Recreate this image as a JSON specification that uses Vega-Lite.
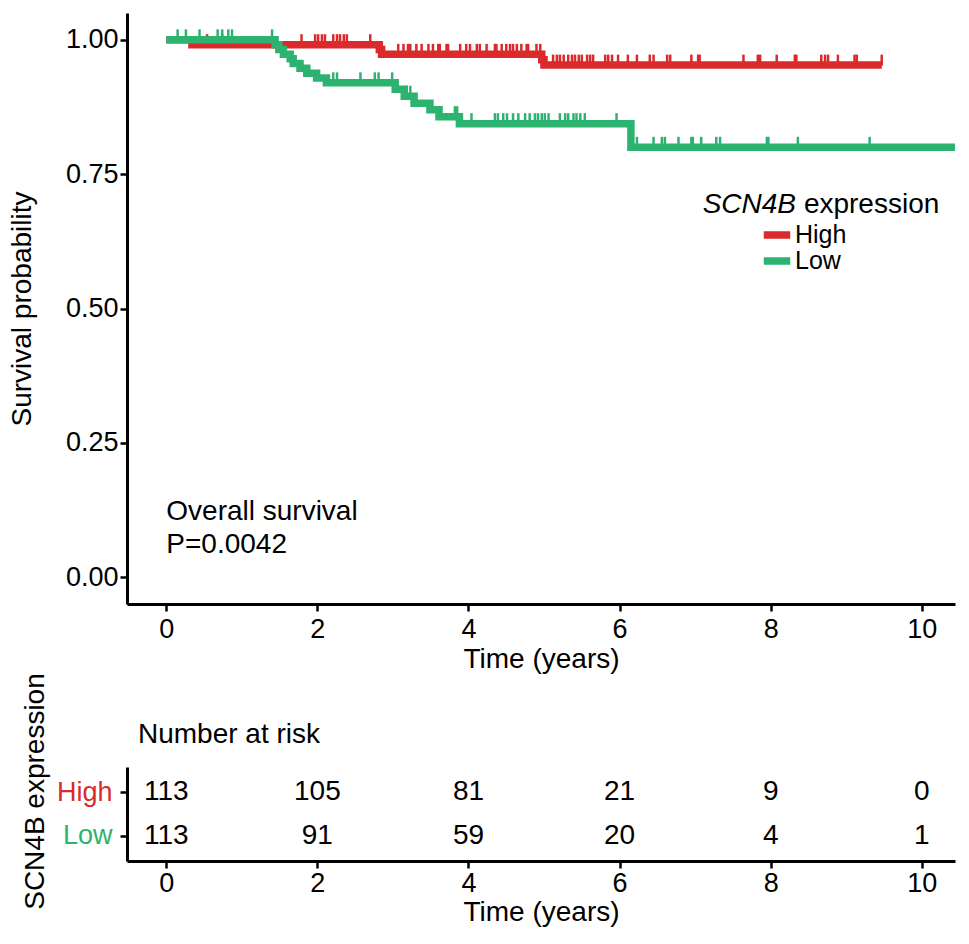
{
  "$schema": "https://vega.github.io/schema/vega-lite/v6.json",
  "padding": {"left": 8, "top": 13, "right": 14, "bottom": 5},
  "background": "white",
  "config": {
    "view": {"stroke": null},
    "font": "Liberation Sans",
    "axis": {
      "grid": false,
      "domainColor": "black",
      "domainWidth": 3,
      "tickColor": "black",
      "tickWidth": 2.5,
      "tickSize": 7,
      "labelColor": "black",
      "labelFontSize": 27,
      "titleFontSize": 28,
      "titleFontWeight": "normal",
      "titleColor": "black"
    }
  },
  "datasets": {
    "km": [
      {"g": "High", "t": 0, "s": 1, "c": 0},
      {"g": "High", "t": 0.34, "s": 0.991, "c": 0},
      {"g": "High", "t": 0.54, "s": 0.991, "c": 1},
      {"g": "High", "t": 0.74, "s": 0.991, "c": 1},
      {"g": "High", "t": 1.79, "s": 0.991, "c": 1},
      {"g": "High", "t": 1.97, "s": 0.991, "c": 1},
      {"g": "High", "t": 2.01, "s": 0.991, "c": 1},
      {"g": "High", "t": 2.06, "s": 0.991, "c": 1},
      {"g": "High", "t": 2.10, "s": 0.991, "c": 1},
      {"g": "High", "t": 2.21, "s": 0.991, "c": 1},
      {"g": "High", "t": 2.26, "s": 0.991, "c": 1},
      {"g": "High", "t": 2.30, "s": 0.991, "c": 1},
      {"g": "High", "t": 2.35, "s": 0.991, "c": 1},
      {"g": "High", "t": 2.39, "s": 0.991, "c": 1},
      {"g": "High", "t": 2.70, "s": 0.991, "c": 1},
      {"g": "High", "t": 2.82, "s": 0.982, "c": 0},
      {"g": "High", "t": 2.85, "s": 0.973, "c": 0},
      {"g": "High", "t": 3.07, "s": 0.973, "c": 1},
      {"g": "High", "t": 3.14, "s": 0.973, "c": 1},
      {"g": "High", "t": 3.20, "s": 0.973, "c": 1},
      {"g": "High", "t": 3.23, "s": 0.973, "c": 1},
      {"g": "High", "t": 3.31, "s": 0.973, "c": 1},
      {"g": "High", "t": 3.38, "s": 0.973, "c": 1},
      {"g": "High", "t": 3.47, "s": 0.973, "c": 1},
      {"g": "High", "t": 3.53, "s": 0.973, "c": 1},
      {"g": "High", "t": 3.60, "s": 0.973, "c": 1},
      {"g": "High", "t": 3.62, "s": 0.973, "c": 1},
      {"g": "High", "t": 3.71, "s": 0.973, "c": 1},
      {"g": "High", "t": 3.73, "s": 0.973, "c": 1},
      {"g": "High", "t": 3.89, "s": 0.973, "c": 1},
      {"g": "High", "t": 3.97, "s": 0.973, "c": 1},
      {"g": "High", "t": 4.02, "s": 0.973, "c": 1},
      {"g": "High", "t": 4.11, "s": 0.973, "c": 1},
      {"g": "High", "t": 4.15, "s": 0.973, "c": 1},
      {"g": "High", "t": 4.24, "s": 0.973, "c": 1},
      {"g": "High", "t": 4.35, "s": 0.973, "c": 1},
      {"g": "High", "t": 4.37, "s": 0.973, "c": 1},
      {"g": "High", "t": 4.44, "s": 0.973, "c": 1},
      {"g": "High", "t": 4.50, "s": 0.973, "c": 1},
      {"g": "High", "t": 4.55, "s": 0.973, "c": 1},
      {"g": "High", "t": 4.59, "s": 0.973, "c": 1},
      {"g": "High", "t": 4.64, "s": 0.973, "c": 1},
      {"g": "High", "t": 4.70, "s": 0.973, "c": 1},
      {"g": "High", "t": 4.77, "s": 0.973, "c": 1},
      {"g": "High", "t": 4.79, "s": 0.973, "c": 1},
      {"g": "High", "t": 4.90, "s": 0.973, "c": 1},
      {"g": "High", "t": 4.95, "s": 0.973, "c": 1},
      {"g": "High", "t": 4.97, "s": 0.963, "c": 0},
      {"g": "High", "t": 5.00, "s": 0.953, "c": 0},
      {"g": "High", "t": 5.12, "s": 0.953, "c": 1},
      {"g": "High", "t": 5.17, "s": 0.953, "c": 1},
      {"g": "High", "t": 5.21, "s": 0.953, "c": 1},
      {"g": "High", "t": 5.26, "s": 0.953, "c": 1},
      {"g": "High", "t": 5.32, "s": 0.953, "c": 1},
      {"g": "High", "t": 5.37, "s": 0.953, "c": 1},
      {"g": "High", "t": 5.41, "s": 0.953, "c": 1},
      {"g": "High", "t": 5.46, "s": 0.953, "c": 1},
      {"g": "High", "t": 5.50, "s": 0.953, "c": 1},
      {"g": "High", "t": 5.57, "s": 0.953, "c": 1},
      {"g": "High", "t": 5.61, "s": 0.953, "c": 1},
      {"g": "High", "t": 5.65, "s": 0.953, "c": 1},
      {"g": "High", "t": 5.81, "s": 0.953, "c": 1},
      {"g": "High", "t": 5.85, "s": 0.953, "c": 1},
      {"g": "High", "t": 5.90, "s": 0.953, "c": 1},
      {"g": "High", "t": 5.98, "s": 0.953, "c": 1},
      {"g": "High", "t": 6.11, "s": 0.953, "c": 1},
      {"g": "High", "t": 6.23, "s": 0.953, "c": 1},
      {"g": "High", "t": 6.40, "s": 0.953, "c": 1},
      {"g": "High", "t": 6.45, "s": 0.953, "c": 1},
      {"g": "High", "t": 6.63, "s": 0.953, "c": 1},
      {"g": "High", "t": 6.67, "s": 0.953, "c": 1},
      {"g": "High", "t": 6.95, "s": 0.953, "c": 1},
      {"g": "High", "t": 7.04, "s": 0.953, "c": 1},
      {"g": "High", "t": 7.06, "s": 0.953, "c": 1},
      {"g": "High", "t": 7.64, "s": 0.953, "c": 1},
      {"g": "High", "t": 7.83, "s": 0.953, "c": 1},
      {"g": "High", "t": 7.86, "s": 0.953, "c": 1},
      {"g": "High", "t": 8.08, "s": 0.953, "c": 1},
      {"g": "High", "t": 8.32, "s": 0.953, "c": 1},
      {"g": "High", "t": 8.34, "s": 0.953, "c": 1},
      {"g": "High", "t": 8.67, "s": 0.953, "c": 1},
      {"g": "High", "t": 8.72, "s": 0.953, "c": 1},
      {"g": "High", "t": 8.76, "s": 0.953, "c": 1},
      {"g": "High", "t": 8.89, "s": 0.953, "c": 1},
      {"g": "High", "t": 9.11, "s": 0.953, "c": 1},
      {"g": "High", "t": 9.14, "s": 0.953, "c": 1},
      {"g": "High", "t": 9.47, "s": 0.953, "c": 1},
      {"g": "Low", "t": 0, "s": 1, "c": 0},
      {"g": "Low", "t": 0.15, "s": 1, "c": 1},
      {"g": "Low", "t": 0.26, "s": 1, "c": 1},
      {"g": "Low", "t": 0.44, "s": 1, "c": 1},
      {"g": "Low", "t": 0.68, "s": 1, "c": 1},
      {"g": "Low", "t": 0.74, "s": 1, "c": 1},
      {"g": "Low", "t": 0.82, "s": 1, "c": 1},
      {"g": "Low", "t": 0.87, "s": 1, "c": 1},
      {"g": "Low", "t": 1.40, "s": 1, "c": 1},
      {"g": "Low", "t": 1.44, "s": 0.991, "c": 0},
      {"g": "Low", "t": 1.49, "s": 0.982, "c": 0},
      {"g": "Low", "t": 1.55, "s": 0.973, "c": 0},
      {"g": "Low", "t": 1.64, "s": 0.965, "c": 0},
      {"g": "Low", "t": 1.68, "s": 0.956, "c": 0},
      {"g": "Low", "t": 1.77, "s": 0.947, "c": 0},
      {"g": "Low", "t": 1.86, "s": 0.938, "c": 0},
      {"g": "Low", "t": 1.99, "s": 0.929, "c": 0},
      {"g": "Low", "t": 2.12, "s": 0.920, "c": 0},
      {"g": "Low", "t": 2.21, "s": 0.920, "c": 1},
      {"g": "Low", "t": 2.26, "s": 0.920, "c": 1},
      {"g": "Low", "t": 2.57, "s": 0.920, "c": 1},
      {"g": "Low", "t": 2.76, "s": 0.920, "c": 1},
      {"g": "Low", "t": 2.81, "s": 0.920, "c": 1},
      {"g": "Low", "t": 2.99, "s": 0.920, "c": 1},
      {"g": "Low", "t": 3.03, "s": 0.908, "c": 0},
      {"g": "Low", "t": 3.15, "s": 0.895, "c": 0},
      {"g": "Low", "t": 3.18, "s": 0.895, "c": 1},
      {"g": "Low", "t": 3.23, "s": 0.895, "c": 1},
      {"g": "Low", "t": 3.28, "s": 0.882, "c": 0},
      {"g": "Low", "t": 3.49, "s": 0.870, "c": 0},
      {"g": "Low", "t": 3.61, "s": 0.857, "c": 0},
      {"g": "Low", "t": 3.82, "s": 0.857, "c": 1},
      {"g": "Low", "t": 3.85, "s": 0.857, "c": 1},
      {"g": "Low", "t": 3.88, "s": 0.844, "c": 0},
      {"g": "Low", "t": 4.04, "s": 0.844, "c": 1},
      {"g": "Low", "t": 4.35, "s": 0.844, "c": 1},
      {"g": "Low", "t": 4.39, "s": 0.844, "c": 1},
      {"g": "Low", "t": 4.46, "s": 0.844, "c": 1},
      {"g": "Low", "t": 4.51, "s": 0.844, "c": 1},
      {"g": "Low", "t": 4.59, "s": 0.844, "c": 1},
      {"g": "Low", "t": 4.66, "s": 0.844, "c": 1},
      {"g": "Low", "t": 4.75, "s": 0.844, "c": 1},
      {"g": "Low", "t": 4.81, "s": 0.844, "c": 1},
      {"g": "Low", "t": 4.88, "s": 0.844, "c": 1},
      {"g": "Low", "t": 4.92, "s": 0.844, "c": 1},
      {"g": "Low", "t": 4.97, "s": 0.844, "c": 1},
      {"g": "Low", "t": 5.01, "s": 0.844, "c": 1},
      {"g": "Low", "t": 5.06, "s": 0.844, "c": 1},
      {"g": "Low", "t": 5.21, "s": 0.844, "c": 1},
      {"g": "Low", "t": 5.28, "s": 0.844, "c": 1},
      {"g": "Low", "t": 5.32, "s": 0.844, "c": 1},
      {"g": "Low", "t": 5.39, "s": 0.844, "c": 1},
      {"g": "Low", "t": 5.43, "s": 0.844, "c": 1},
      {"g": "Low", "t": 5.48, "s": 0.844, "c": 1},
      {"g": "Low", "t": 5.54, "s": 0.844, "c": 1},
      {"g": "Low", "t": 5.96, "s": 0.844, "c": 1},
      {"g": "Low", "t": 6.15, "s": 0.800, "c": 0},
      {"g": "Low", "t": 6.23, "s": 0.800, "c": 1},
      {"g": "Low", "t": 6.45, "s": 0.800, "c": 1},
      {"g": "Low", "t": 6.56, "s": 0.800, "c": 1},
      {"g": "Low", "t": 6.60, "s": 0.800, "c": 1},
      {"g": "Low", "t": 6.78, "s": 0.800, "c": 1},
      {"g": "Low", "t": 6.95, "s": 0.800, "c": 1},
      {"g": "Low", "t": 6.97, "s": 0.800, "c": 1},
      {"g": "Low", "t": 7.08, "s": 0.800, "c": 1},
      {"g": "Low", "t": 7.28, "s": 0.800, "c": 1},
      {"g": "Low", "t": 7.33, "s": 0.800, "c": 1},
      {"g": "Low", "t": 7.95, "s": 0.800, "c": 1},
      {"g": "Low", "t": 7.97, "s": 0.800, "c": 1},
      {"g": "Low", "t": 8.36, "s": 0.800, "c": 1},
      {"g": "Low", "t": 9.31, "s": 0.800, "c": 1},
      {"g": "Low", "t": 10.44, "s": 0.800, "c": 0}
    ],
    "risk": [
      {"g": "High", "t": 0, "n": 113},
      {"g": "High", "t": 2, "n": 105},
      {"g": "High", "t": 4, "n": 81},
      {"g": "High", "t": 6, "n": 21},
      {"g": "High", "t": 8, "n": 9},
      {"g": "High", "t": 10, "n": 0},
      {"g": "Low", "t": 0, "n": 113},
      {"g": "Low", "t": 2, "n": 91},
      {"g": "Low", "t": 4, "n": 59},
      {"g": "Low", "t": 6, "n": 20},
      {"g": "Low", "t": 8, "n": 4},
      {"g": "Low", "t": 10, "n": 1}
    ]
  },
  "bounds": "flush",
  "spacing": 163,
  "vconcat": [
    {
      "width": 828,
      "height": 591,
      "data": {"name": "km"},
      "encoding": {
        "x": {
          "field": "t", "type": "quantitative",
          "scale": {"domain": [-0.52, 10.44], "nice": false, "zero": false},
          "axis": {"values": [0, 2, 4, 6, 8, 10], "title": "Time (years)", "labelPadding": 5.5, "titlePadding": 2.5}
        },
        "y": {
          "field": "s", "type": "quantitative",
          "scale": {"domain": [-0.05, 1.05], "nice": false, "zero": false},
          "axis": {"values": [0, 0.25, 0.5, 0.75, 1], "format": ".2f", "title": "Survival probability", "labelPadding": 2, "titlePadding": 29}
        }
      },
      "layer": [
        {
          "transform": [{"filter": "datum.c == 1"}],
          "mark": {"type": "tick", "orient": "vertical", "size": 11, "thickness": 2.5, "yOffset": -5, "opacity": 1, "clip": true},
          "encoding": {
            "color": {
              "field": "g", "type": "nominal",
              "scale": {"domain": ["High", "Low"], "range": ["#DA2A2B", "#2DB370"]},
              "legend": {
                "title": null, "orient": "none", "legendX": 633, "legendY": 209.5, "padding": 0,
                "symbolType": "stroke", "symbolSize": 700, "symbolStrokeWidth": 7.5, "symbolOpacity": 1,
                "clipHeight": 25,
                "labelFontSize": 25, "labelColor": "black", "labelOffset": 1, "rowPadding": 0
              }
            }
          }
        },
        {
          "mark": {"type": "line", "interpolate": "step-after", "strokeWidth": 7.5, "clip": true},
          "encoding": {
            "color": {
              "field": "g", "type": "nominal",
              "scale": {"domain": ["High", "Low"], "range": ["#DA2A2B", "#2DB370"]},
              "legend": {
                "title": null, "orient": "none", "legendX": 633, "legendY": 209.5, "padding": 0,
                "symbolType": "stroke", "symbolSize": 700, "symbolStrokeWidth": 7.5, "symbolOpacity": 1,
                "clipHeight": 25,
                "labelFontSize": 25, "labelColor": "black", "labelOffset": 1, "rowPadding": 0
              }
            }
          }
        },
        {
          "transform": [{"filter": "datum.t == 0 && datum.g == 'High'"}],
          "mark": {"type": "text", "text": ["Overall survival", "P=0.0042"], "align": "left", "baseline": "middle", "fontSize": 28, "lineHeight": 33, "color": "black"},
          "encoding": {"x": {"datum": 0}, "y": {"datum": 0.122}}
        },
        {
          "transform": [{"filter": "datum.t == 0 && datum.g == 'High'"}],
          "mark": {"type": "text", "text": "SCN4B", "fontStyle": "italic", "align": "left", "baseline": "alphabetic", "fontSize": 28, "color": "black"},
          "encoding": {"x": {"datum": 7.10}, "y": {"datum": 0.677}}
        },
        {
          "transform": [{"filter": "datum.t == 0 && datum.g == 'High'"}],
          "mark": {"type": "text", "text": "expression", "align": "left", "baseline": "alphabetic", "fontSize": 28, "color": "black"},
          "encoding": {"x": {"datum": 8.44}, "y": {"datum": 0.677}}
        }
      ]
    },
    {
      "width": 828,
      "height": 94,
      "title": {"text": "Number at risk", "anchor": "start", "frame": "group", "fontSize": 28, "fontWeight": "normal", "color": "black", "offset": -76, "dx": 11},
      "data": {"name": "risk"},
      "mark": {"type": "text", "fontSize": 28, "color": "black"},
      "encoding": {
        "x": {
          "field": "t", "type": "quantitative",
          "scale": {"domain": [-0.52, 10.44], "nice": false, "zero": false},
          "axis": {"values": [0, 2, 4, 6, 8, 10], "title": "Time (years)", "labelPadding": 2.5, "titlePadding": 2}
        },
        "y": {
          "field": "g", "type": "nominal",
          "scale": {"type": "point", "domain": ["High", "Low"], "padding": 0.59},
          "axis": {
            "title": "SCN4B expression",
            "labelPadding": 8,
            "titlePadding": 7,
            "titleY": 24,
            "labelColor": {"condition": {"test": "datum.value === 'High'", "value": "#DA2A2B"}, "value": "#2DB370"}
          }
        },
        "text": {"field": "n", "type": "quantitative"}
      }
    }
  ]
}
